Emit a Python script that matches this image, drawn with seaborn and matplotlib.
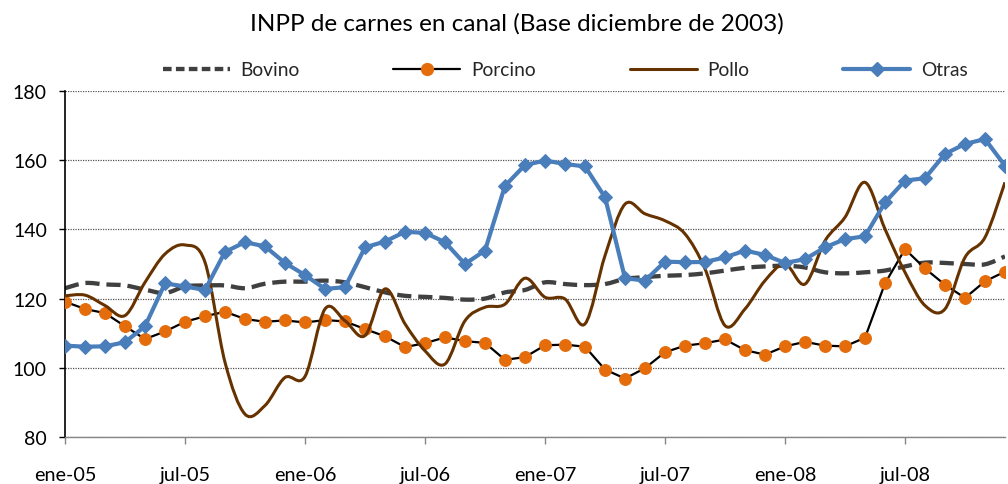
import numpy as np
import pandas as pd
import matplotlib
matplotlib.use("Agg")
import matplotlib.pyplot as plt
from matplotlib.path import Path
from matplotlib.patches import PathPatch
from matplotlib.lines import Line2D
import seaborn as sns

# ene-2005 .. dic-2008, un dato por mes
etiquetas = ["ene-05", "jul-05", "ene-06", "jul-06", "ene-07", "jul-07", "ene-08", "jul-08"]

bovino = [123.0, 124.5, 124.1, 123.8, 122.6, 121.6, 123.5, 123.8, 123.8, 123.0, 124.3, 124.9,
          124.9, 125.2, 124.7, 123.3, 121.8, 120.8, 120.5, 120.2, 119.7, 120.0, 121.8, 122.5,
          124.7, 124.2, 123.9, 124.2, 125.7, 126.2, 126.6, 126.8, 127.3, 128.1, 128.9, 129.3,
          129.5, 129.0, 127.6, 127.3, 127.6, 128.1, 129.3, 130.4, 130.3, 130.0, 129.9, 132.2]
porcino = [119.1, 117.0, 115.8, 112.0, 108.3, 110.5, 113.3, 114.9, 116.2, 114.1, 113.3, 113.7,
           113.1, 113.8, 113.4, 111.2, 109.1, 106.0, 107.1, 108.8, 107.7, 107.2, 102.3, 103.1,
           106.5, 106.7, 106.1, 99.5, 96.9, 99.9, 104.5, 106.4, 107.1, 108.2, 105.1, 103.8,
           106.2, 107.5, 106.4, 106.2, 108.7, 124.4, 134.3, 128.7, 124.0, 120.2, 125.0, 127.8]
pollo = [120.8, 121.0, 118.0, 115.1, 124.7, 132.9, 135.5, 130.5, 101.6, 86.6, 89.1, 97.2,
         97.5, 117.0, 113.6, 109.3, 122.8, 112.7, 104.9, 101.1, 113.6, 117.5, 118.4, 125.9,
         120.4, 119.9, 112.7, 132.4, 147.3, 144.5, 142.5, 138.7, 128.6, 112.2, 117.0, 125.2,
         130.0, 124.2, 136.7, 143.5, 153.6, 140.1, 127.6, 118.0, 117.0, 131.9, 137.7, 153.6]
otras = [106.4, 106.1, 106.2, 107.4, 112.0, 124.4, 123.5, 122.5, 133.5, 136.3, 135.1, 130.3,
         126.8, 122.8, 123.3, 134.8, 136.5, 139.3, 139.0, 136.3, 130.0, 133.9, 152.6, 158.6,
         159.9, 158.9, 158.2, 149.3, 125.9, 125.2, 130.7, 130.5, 130.6, 131.9, 133.9, 132.6,
         130.3, 131.4, 134.8, 137.2, 138.0, 147.8, 154.1, 154.8, 161.8, 164.7, 166.1, 158.4]

C_BOV = "#404040"
C_POR = "#E46C0A"
C_POL = "#663300"
C_OTR = "#4A7EBB"

df = pd.DataFrame({"mes": np.arange(len(bovino)), "Bovino": bovino, "Porcino": porcino,
                   "Pollo": pollo, "Otras": otras})

sns.set_theme(style="white")
plt.rcParams["font.family"] = ["Lato", "DejaVu Sans"]


def suave(x, y):
    # linea suavizada tipo Excel (Catmull-Rom convertido a Bezier)
    pts = np.column_stack([x, y]).astype(float)
    p = np.vstack([pts[0], pts, pts[-1]])
    verts = [pts[0]]
    codes = [Path.MOVETO]
    for i in range(1, len(p) - 2):
        c1 = p[i] + (p[i + 1] - p[i - 1]) / 6
        c2 = p[i + 1] - (p[i + 2] - p[i]) / 6
        verts += [c1, c2, p[i + 1]]
        codes += [Path.CURVE4] * 3
    return Path(verts, codes)


fig = plt.figure(figsize=(10.08, 4.85), dpi=100)
ax = fig.add_axes([65 / 1008, 1 - 438 / 485, (1005 - 65) / 1008, (438 - 92) / 485])

ax.add_patch(PathPatch(suave(df["mes"], df["Bovino"]), fill=False, edgecolor=C_BOV, lw=3.1,
                       linestyle=(0, (3.3, 1.6)), zorder=2))
sns.lineplot(data=df, x="mes", y="Porcino", ax=ax, color="black", lw=1.6, marker="o",
             markersize=8.5, markerfacecolor=C_POR, markeredgecolor=C_POR, zorder=3, legend=False)
ax.add_patch(PathPatch(suave(df["mes"], df["Pollo"]), fill=False, edgecolor=C_POL, lw=2.2,
                       zorder=4))
sns.lineplot(data=df, x="mes", y="Otras", ax=ax, color=C_OTR, lw=3, marker="D",
             markersize=7.5, markerfacecolor=C_OTR, markeredgecolor=C_OTR, zorder=5, legend=False)

ax.set_xlim(0, len(bovino) - 1)
ax.set_ylim(80, 180)
ax.set_yticks(range(80, 181, 20))
ax.set_xticks(np.arange(len(etiquetas)) * 6)
ax.set_xticklabels(etiquetas)
ax.set_xlabel("")
ax.set_ylabel("")

ax.yaxis.grid(True, linestyle=(0, (1, 1)), color="#555555", lw=0.9)
ax.xaxis.grid(False)
for s in ["top", "right"]:
    ax.spines[s].set_visible(False)
ax.spines["left"].set_color("black")
ax.spines["left"].set_linewidth(1.2)
ax.spines["bottom"].set_color("#868686")
ax.spines["bottom"].set_linewidth(1.0)
ax.tick_params(axis="y", left=True, length=4, width=1, color="black", pad=9,
               labelsize=14, labelcolor="black")
ax.tick_params(axis="x", bottom=True, length=5, width=1, color="#868686", pad=16,
               labelsize=14.3, labelcolor="black")

fig.text(517 / 1008, 1 - 24 / 485, "INPP de carnes en canal (Base diciembre de 2003)",
         ha="center", va="center", fontsize=17.5, color="black")

handles = [
    Line2D([], [], color=C_BOV, lw=3.1, linestyle=(0, (2.0, 1.0))),
    Line2D([], [], color="black", lw=1.6, marker="o", markersize=8.5,
           markerfacecolor=C_POR, markeredgecolor=C_POR),
    Line2D([], [], color=C_POL, lw=2.2),
    Line2D([], [], color=C_OTR, lw=3, marker="D", markersize=7.5,
           markerfacecolor=C_OTR, markeredgecolor=C_OTR),
]
fig.legend(handles, ["Bovino", "Porcino", "Pollo", "Otras"], loc="center",
           bbox_to_anchor=(565 / 1008, 1 - 71 / 485), ncol=4, frameon=False,
           fontsize=13.8, handlelength=3.5, handletextpad=0.55, columnspacing=4.9,
           borderpad=0, borderaxespad=0)

fig.savefig("out.png", dpi=100)
